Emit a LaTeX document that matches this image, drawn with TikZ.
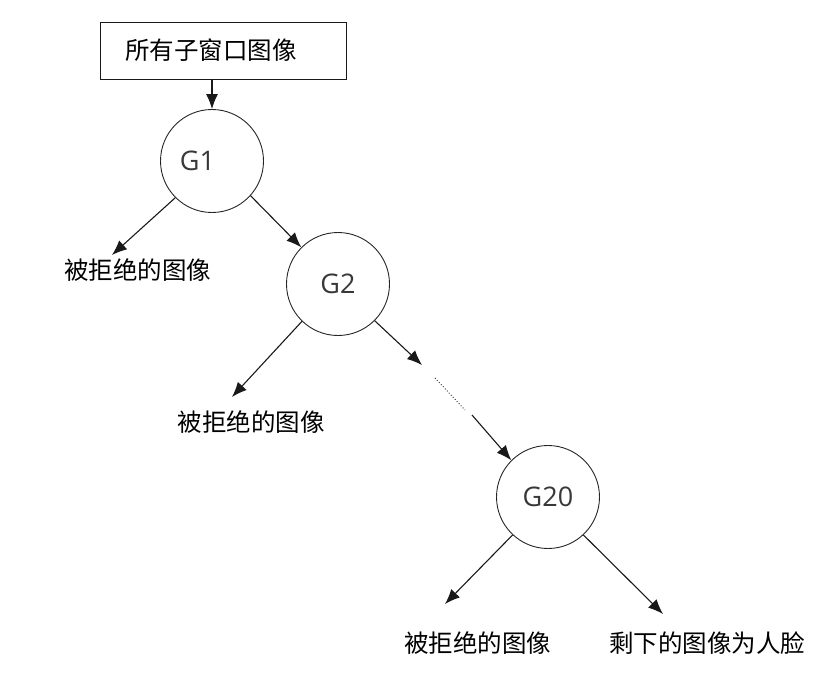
\documentclass[tikz,border=0pt]{standalone}
\usepackage{fontspec}
\setmainfont{Open Sans}
\newfontfamily\cjk{Noto Sans CJK SC}
\usetikzlibrary{arrows.meta}
\begin{document}
\begin{tikzpicture}[x=1pt,y=-1pt,
  stage/.style={circle,draw=black!85,line width=0.9pt,minimum size=103pt,inner sep=0pt,
    font=\fontsize{27}{30}\selectfont,text=black!78},
  outtext/.style={font=\cjk\fontsize{24.5}{28}\selectfont,inner sep=0pt,text=black},
  topbox/.style={draw=black!90,line width=0.9pt,minimum width=246pt,minimum height=57pt,
    inner sep=0pt,font=\cjk\fontsize{24.5}{28}\selectfont,text=black},
  arr/.style={draw=black!90,line width=1.1pt,-{Latex[length=15pt,width=12pt]}},
]
\useasboundingbox (0,0) rectangle (832,682);

% source box
\node[topbox] (all) at (223,50.5) {所有子窗口图像\hspace*{24pt}};

% classifier stages
\node[stage] (g1) at (212,161) {G1\hspace*{29pt}};
\node[stage] (g2) at (338,284) {G2};
\node[stage] (g20) at (548,497) {G20};

% outcome captions
\node[outtext] (r1) at (137.5,270) {被拒绝的图像};
\node[outtext] (r2) at (251,422) {被拒绝的图像};
\node[outtext] (r3) at (477.5,643) {被拒绝的图像};
\node[outtext] (face) at (707,643) {剩下的图像为人脸};

% arrow ends and the elided chain
\coordinate (t1) at (112,255);
\coordinate (t2) at (232,397);
\coordinate (t3) at (422,365);
\coordinate (d1) at (435,378);
\coordinate (d2) at (465,410);
\coordinate (d3) at (472,415);
\coordinate (t4) at (445,604);
\coordinate (t5) at (663,614);

\draw[arr] (g1.north |- all.south) -- (g1.north);
\draw[arr] (g1.225) -- (t1);
\draw[arr] (g1.318) -- (g2.135);
\draw[arr] (g2.226) -- (t2);
\draw[arr] (g2.315) -- (t3);
\draw[black!85,line width=0.9pt,dotted] (d1) -- (d2);
\draw[arr] (d3) -- (g20.135);
\draw[arr] (g20.227) -- (t4);
\draw[arr] (g20.313) -- (t5);
\end{tikzpicture}
\end{document}
